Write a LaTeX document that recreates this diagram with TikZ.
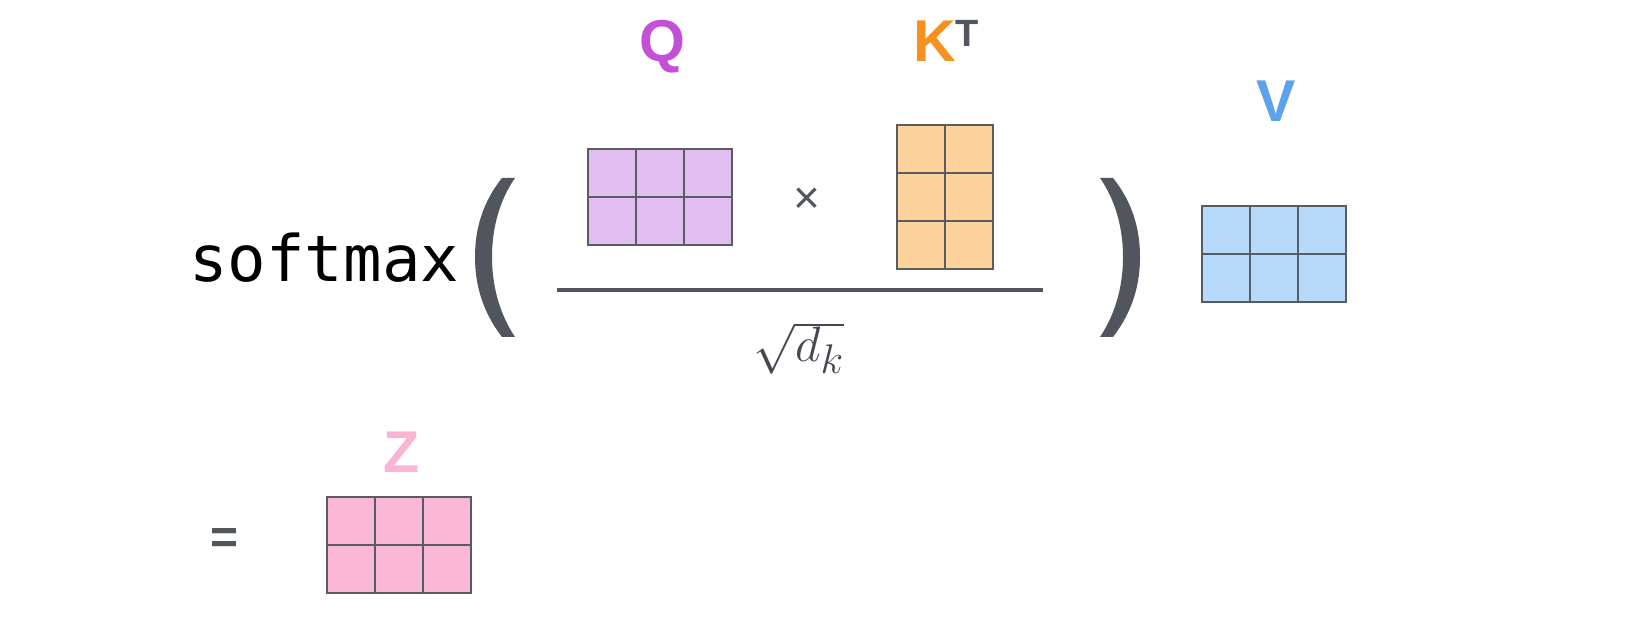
\documentclass[tikz,border=0pt]{standalone}
\usepackage{fontspec}
\setmainfont{Liberation Sans}
\newfontfamily\monof{DejaVu Sans Mono}
\definecolor{qlab}{HTML}{C350D8}
\definecolor{qfill}{HTML}{E3BEF1}
\definecolor{klab}{HTML}{F7901E}
\definecolor{kfill}{HTML}{FDD29C}
\definecolor{vlab}{HTML}{5BA3EA}
\definecolor{vfill}{HTML}{B8DAFA}
\definecolor{zlab}{HTML}{F9B5D3}
\definecolor{zfill}{HTML}{FBB8D6}
\definecolor{gridc}{HTML}{595D63}
\definecolor{darkg}{HTML}{50555E}
\tikzset{
  gridline/.style={draw=gridc, line width=1pt},
  lab/.style={inner sep=0pt, outer sep=0pt, anchor=base, font=\fontsize{29.5}{30}\selectfont\bfseries},
  sym/.style={inner sep=0pt, outer sep=0pt, text=darkg},
}
\begin{document}
\begin{tikzpicture}[x=0.5pt, y=-0.5pt]
\useasboundingbox[fill=white] (0,0) rectangle (1632,640);

% labels
\node[lab, text=qlab] (qlabel) at (662,62) {Q};
\node[lab, anchor=base west] (klabel) at (913,62) {\textcolor{klab}{K}\raisebox{7.5pt}{\fontsize{19}{19}\selectfont\textcolor{darkg}{T}}};
\node[lab, text=vlab] (vlabel) at (1276,122) {V};
\node[lab, text=zlab] (zlabel) at (402,473) {Z};

% softmax
\node[inner sep=0pt, anchor=base west, font=\monof\fontsize{32}{32}\selectfont] (softmax) at (189,282) {softmax};

% parentheses
\fill[darkg] (502,178) .. controls (482,203) and (475,230) .. (475,257)
  .. controls (475,284) and (482,311) .. (502,337) -- (515,337)
  .. controls (499,313) and (492,285) .. (492,257)
  .. controls (492,229) and (499,201) .. (515,178) -- cycle;
\fill[darkg] (1113,178) .. controls (1133,203) and (1140,230) .. (1140,257)
  .. controls (1140,284) and (1133,311) .. (1113,337) -- (1100,337)
  .. controls (1116,313) and (1123,285) .. (1123,257)
  .. controls (1123,229) and (1116,201) .. (1100,178) -- cycle;

% Q matrix
\node[gridline, fill=qfill, inner sep=0pt, minimum width=72pt, minimum height=48pt] (Q) at (660,197) {};
\draw[gridline] (636,149) -- (636,245) (684,149) -- (684,245) (588,197) -- (732,197);

% times
\node[sym, font=\fontsize{23}{23}\selectfont] (times) at (807,201) {×};

% K^T matrix
\node[gridline, fill=kfill, inner sep=0pt, minimum width=48pt, minimum height=72pt] (K) at (945,197) {};
\draw[gridline] (945,125) -- (945,269) (897,173) -- (993,173) (897,221) -- (993,221);

% fraction line
\coordinate (fl) at (557,290);
\coordinate (fr) at (1043,290);
\draw[darkg, line width=1.6pt] (fl) -- (fr);

% sqrt d_k
\node[sym, text=darkg!85!black, font=\fontsize{28.5}{28.5}\selectfont] (sqrt) at (799,348) {$\sqrt{d_k}$};

% V matrix
\node[gridline, fill=vfill, inner sep=0pt, minimum width=72pt, minimum height=48pt] (V) at (1274,254) {};
\draw[gridline] (1250,206) -- (1250,302) (1298,206) -- (1298,302) (1202,254) -- (1346,254);

% equals
\node[sym, font=\fontsize{24}{24}\selectfont\bfseries] (eq) at (225,541) {=};

% Z matrix
\node[gridline, fill=zfill, inner sep=0pt, minimum width=72pt, minimum height=48pt] (Z) at (399,545) {};
\draw[gridline] (375,497) -- (375,593) (423,497) -- (423,593) (327,545) -- (471,545);
\end{tikzpicture}
\end{document}
